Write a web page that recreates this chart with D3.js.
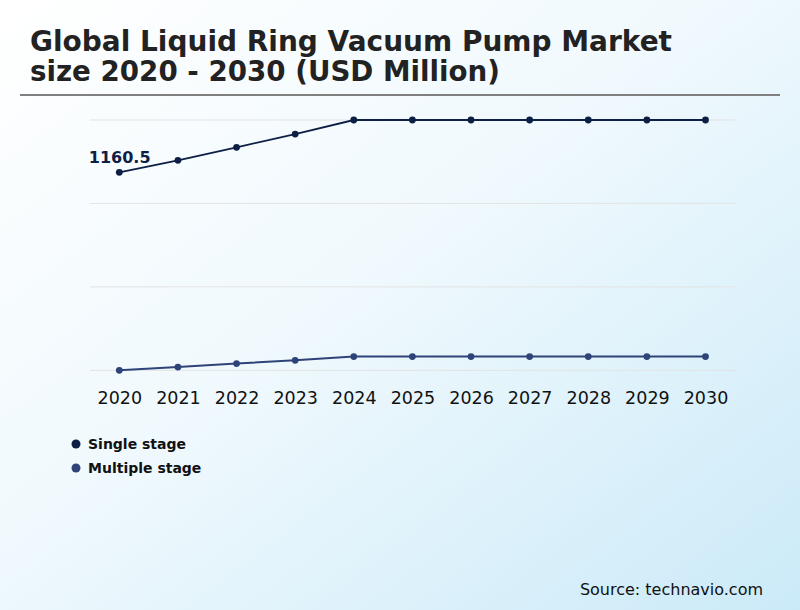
<!DOCTYPE html>
<html>
<head>
<meta charset="utf-8">
<script src="https://cdn.jsdelivr.net/npm/d3@7"></script>
<style>
html,body{margin:0;padding:0;}
body{width:800px;height:610px;overflow:hidden;}
</style>
</head>
<body>
<script>
const years = ["2020","2021","2022","2023","2024","2025","2026","2027","2028","2029","2030"];
const singleStage = [1160.5, 1215.7, 1275.5, 1336.5, 1401, 1401, 1401, 1401, 1401, 1401, 1401];
const multipleStage = [250, 265, 281, 296, 313, 313, 313, 313, 313, 313, 313];
const seriesNames = ["Single stage", "Multiple stage"];
const seriesColors = ["#0d1f45", "#2e4378"];
const titleLines = ["Global Liquid Ring Vacuum Pump Market", "size 2020 - 2030 (USD Million)"];
const sourceText = "Source: technavio.com";

const W = 800, H = 610;
const svg = d3.select("body").append("svg").attr("width", W).attr("height", H)
  .style("font-family", "'DejaVu Sans', sans-serif");

const defs = svg.append("defs");
const grad = defs.append("linearGradient").attr("id", "bg")
  .attr("x1", "0%").attr("y1", "0%").attr("x2", "100%").attr("y2", "100%");
grad.append("stop").attr("offset", "0%").attr("stop-color", "#ffffff");
grad.append("stop").attr("offset", "45%").attr("stop-color", "#f0f9fd");
grad.append("stop").attr("offset", "100%").attr("stop-color", "#cbeaf8");
svg.append("rect").attr("width", W).attr("height", H).attr("fill", "url(#bg)");

// Title
svg.append("g").selectAll("text").data(titleLines).join("text")
  .attr("x", 30).attr("y", (d, i) => 50.7 + i * 30.3)
  .attr("font-size", 28).attr("font-weight", "bold").attr("fill", "#222")
  .attr("textLength", (d, i) => i === 0 ? 642 : 470)
  .attr("lengthAdjust", "spacingAndGlyphs")
  .text(d => d);
svg.append("line").attr("x1", 20).attr("x2", 780).attr("y1", 95).attr("y2", 95)
  .attr("stroke", "#808080").attr("stroke-width", 2);

// Scales
const x = d3.scalePoint().domain(years).range([119.3, 705.5]);
const all = singleStage.concat(multipleStage);
const yMin = d3.min(all), yMax = d3.max(all);
const y = d3.scaleLinear().domain([yMin, yMax]).range([370.3, 120]);

// Gridlines
const gridVals = d3.range(4).map(i => yMin + i * (yMax - yMin) / 3);
svg.append("g").selectAll("line").data(gridVals).join("line")
  .attr("x1", 90).attr("x2", 736)
  .attr("y1", d => y(d)).attr("y2", d => y(d))
  .attr("stroke", "#e3e3e3").attr("stroke-width", 1);

// X axis labels
const xAxis = svg.append("g").attr("transform", "translate(0,388)")
  .call(d3.axisBottom(x).tickSize(0).tickPadding(0));
xAxis.select(".domain").remove();
xAxis.selectAll("text").attr("font-size", 17.5).attr("fill", "#111")
  .attr("font-family", "'DejaVu Sans', sans-serif").attr("dy", "0.71em").attr("y", 4);

// Lines
const data = [singleStage, multipleStage];
const line = d3.line().x((d, i) => x(years[i])).y(d => y(d));
data.forEach((vals, si) => {
  svg.append("path").datum(vals).attr("d", line)
    .attr("fill", "none").attr("stroke", seriesColors[si]).attr("stroke-width", si === 0 ? 1.8 : 2);
  svg.append("g").selectAll("circle").data(vals).join("circle")
    .attr("cx", (d, i) => x(years[i])).attr("cy", d => y(d)).attr("r", 3.4)
    .attr("fill", seriesColors[si]);
});

// Data label
svg.append("text").attr("x", x(years[0]) - 30.5).attr("y", 163)
  .attr("font-size", 16).attr("font-weight", "bold").attr("fill", "#0d1f45")
  .text(d3.format(".1f")(singleStage[0]));

// Legend
const lg = svg.append("g").selectAll("g").data(seriesNames).join("g")
  .attr("transform", (d, i) => `translate(76,${444 + i * 24})`);
lg.append("circle").attr("r", 4.5).attr("fill", (d, i) => seriesColors[i]);
lg.append("text").attr("x", 12).attr("y", 5).attr("font-size", 14)
  .attr("font-weight", "bold").attr("fill", "#111").text(d => d);

// Source
svg.append("text").attr("x", 763).attr("y", 595).attr("text-anchor", "end")
  .attr("font-size", 16).attr("fill", "#111").text(sourceText);
</script>
</body>
</html>
